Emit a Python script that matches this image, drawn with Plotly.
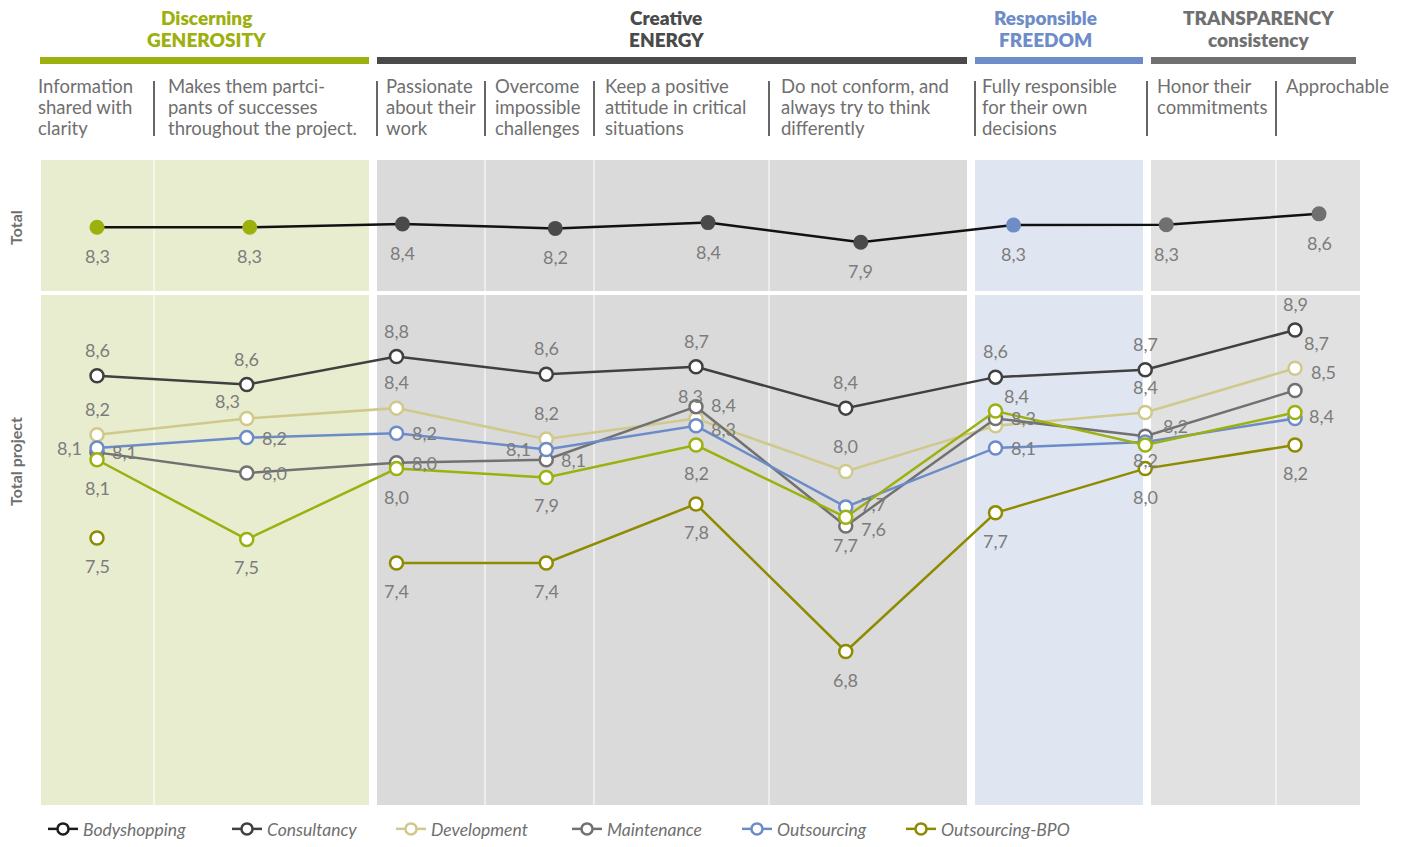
import plotly.graph_objects as go

W, H = 1408, 841

# ---- data -------------------------------------------------------------
groups = ["Discerning<br>GENEROSITY", "Creative<br>ENERGY",
          "Responsible<br>FREEDOM", "TRANSPARENCY<br>consistency"]

categories = [
    "Information<br>shared with<br>clarity",
    "Makes them partci-<br>pants of successes<br>throughout the project.",
    "Passionate<br>about their<br>work",
    "Overcome<br>impossible<br>challenges",
    "Keep a positive<br>attitude in critical<br>situations",
    "Do not conform, and<br>always try to think<br>differently",
    "Fully responsible<br>for their own<br>decisions",
    "Honor their<br>commitments",
    "Approchable",
]
category_group = [0, 0, 1, 1, 1, 1, 2, 3, 3]

total = [8.27, 8.27, 8.36, 8.24, 8.40, 7.86, 8.33, 8.34, 8.64]

series_names = ["Bodyshopping", "Consultancy", "Development",
                "Maintenance", "Outsourcing", "Outsourcing-BPO"]
bodyshopping = [8.06, 7.52, 8.00, 7.94, 8.16, 7.67, 8.39, 8.16, 8.38]
consultancy = [8.63, 8.57, 8.76, 8.64, 8.69, 8.41, 8.62, 8.67, 8.94]
development = [8.23, 8.34, 8.41, 8.20, 8.34, 7.98, 8.29, 8.38, 8.68]
maintenance = [8.11, 7.97, 8.04, 8.06, 8.42, 7.61, 8.34, 8.22, 8.53]
outsourcing = [8.14, 8.21, 8.24, 8.13, 8.29, 7.74, 8.14, 8.18, 8.34]
outsourcing_bpo = [7.53, None, 7.36, 7.36, 7.76, 6.76, 7.70, 8.00, 8.16]

# ---- styles -----------------------------------------------------------
group_colors = ["#9cb00e", "#4a4a4a", "#6e8cc8", "#707070"]
band_colors = ["#e9edcf", "#dadada", "#e0e6f1", "#e1e1e1"]
line_colors = {
    "Bodyshopping": "#9cb00e",
    "Consultancy": "#404040",
    "Development": "#cfc98b",
    "Maintenance": "#717171",
    "Outsourcing": "#6b8cc8",
    "Outsourcing-BPO": "#8e8b00",
}
legend_colors = {
    "Bodyshopping": "#1c1c1c",
    "Consultancy": "#404040",
    "Development": "#cfc98b",
    "Maintenance": "#717171",
    "Outsourcing": "#6b8cc8",
    "Outsourcing-BPO": "#8e8b00",
}
legend_widths = {
    "Bodyshopping": 139, "Consultancy": 119, "Development": 131,
    "Maintenance": 125, "Outsourcing": 119, "Outsourcing-BPO": 150,
}
LABEL_GRAY = "#7c7c7c"
TEXT_GRAY = "#6f6f6f"
FONT = "Lato, 'Open Sans', sans-serif"

# label placement: (dx, dy, xanchor) in pixels relative to the marker
A = (0, 26, "center")
B = (0, -28, "center")
R = (13, 0, "left")
L = (-13, 0, "right")
label_place = {
    "Consultancy": [A] * 9,
    "Development": [A, (-19, 17, "center"), A, A, (-6, 22, "center"), A, None, A, (21, 25, "center")],
    "Maintenance": [R, R, R, R, (13, 2, "left"), (13, -3, "left"), R, (16, 10, "left"), (14, 18, "left")],
    "Outsourcing": [L, R, R, L, (13, -3, "left"), (13, 3, "left"), R, None, None],
    "Bodyshopping": [B, B, B, B, B, B, (21, 15, "center"), (0, -15, "center"), (12, -3, "left")],
    "Outsourcing-BPO": [B, None, B, B, B, B, B, B, B],
}

# ---- geometry helpers (pixel -> paper) ---------------------------------
def px(x):
    return x / W

def py(y):
    return 1 - y / H

xs = list(range(len(categories)))

fig = go.Figure()

# total panel
fig.add_trace(go.Scatter(
    x=xs, y=total, xaxis="x2", yaxis="y2", mode="lines+markers",
    line=dict(color="#111111", width=2.5),
    marker=dict(size=15, color=[group_colors[g] for g in category_group],
                line=dict(width=0)),
    showlegend=False, hoverinfo="skip",
))

# project panel
series = {
    "Bodyshopping": bodyshopping,
    "Consultancy": consultancy,
    "Development": development,
    "Maintenance": maintenance,
    "Outsourcing": outsourcing,
    "Outsourcing-BPO": outsourcing_bpo,
}
draw_order = ["Development", "Maintenance", "Outsourcing", "Bodyshopping",
              "Consultancy", "Outsourcing-BPO"]
for name in draw_order:
    fig.add_trace(go.Scatter(
        x=xs, y=series[name], mode="lines+markers",
        line=dict(color=line_colors[name], width=2.5),
        marker=dict(size=13, color="white", symbol="circle",
                    line=dict(color=line_colors[name], width=2.5)),
        showlegend=False, hoverinfo="skip",
    ))

# legend entries
for name in series_names:
    fig.add_trace(go.Scatter(
        x=[None], y=[None], mode="lines+markers", name=name,
        line=dict(color=legend_colors[name], width=2.5),
        marker=dict(size=11, color="white",
                    line=dict(color=legend_colors[name], width=2.5)),
        legendwidth=legend_widths[name],
    ))

annotations = []

def fmt(v):
    return f"{v:.1f}".replace(".", ",")

LABEL_FONT = dict(family=FONT, size=18, color=LABEL_GRAY)

# value labels, project panel
for name, vals in series.items():
    for i, v in enumerate(vals):
        place = label_place[name][i]
        if v is None or place is None:
            continue
        dx, dy, anchor = place
        annotations.append(dict(
            x=i, y=v, xref="x", yref="y", text=fmt(v), showarrow=False,
            xshift=dx, yshift=dy, xanchor=anchor, font=LABEL_FONT,
        ))

# value labels, total panel
for i, v in enumerate(total):
    annotations.append(dict(
        x=i, y=v, xref="x2", yref="y2", text=fmt(v), showarrow=False,
        yshift=-29, font=LABEL_FONT,
    ))

# group headings, one annotation per line
group_centers = [206, 666, 1045, 1258]
for g, (title, cx) in enumerate(zip(groups, group_centers)):
    for k, line in enumerate(title.split("<br>")):
        annotations.append(dict(
            x=px(cx), y=py(18 + 21 * k), xref="paper", yref="paper",
            text=line, showarrow=False, xanchor="center", yanchor="middle",
            font=dict(family=FONT, size=19, color=group_colors[g], weight=800),
        ))

# category descriptions, one annotation per line
cat_text_x = [37, 167, 385, 494, 604, 780, 981, 1156, 1285]
for cx, text in zip(cat_text_x, categories):
    for k, line in enumerate(text.split("<br>")):
        annotations.append(dict(
            x=px(cx - 1), y=py(86 + 21 * k), xref="paper", yref="paper",
            text=line, showarrow=False, xanchor="left", yanchor="middle",
            font=dict(family=FONT, size=18.5, color=TEXT_GRAY),
        ))

# row titles
for text, cy in [("Total", 227), ("Total project", 462)]:
    annotations.append(dict(
        x=px(15), y=py(cy), xref="paper", yref="paper", text=f"<b>{text}</b>",
        showarrow=False, textangle=-90, xanchor="center", yanchor="middle",
        font=dict(family=FONT, size=16, color=TEXT_GRAY),
    ))

shapes = []
band_x = [(41, 369), (377, 967), (975, 1143), (1151, 1360)]
bar_x = [(40, 369), (377, 967), (975, 1143), (1151, 1356)]
panel_y = [(160, 291), (295, 805)]
for g, (x0, x1) in enumerate(band_x):
    for y0, y1 in panel_y:
        shapes.append(dict(type="rect", xref="paper", yref="paper",
                           x0=px(x0), x1=px(x1), y0=py(y1), y1=py(y0),
                           fillcolor=band_colors[g], line=dict(width=0),
                           layer="below"))
for g, (x0, x1) in enumerate(bar_x):
    shapes.append(dict(type="rect", xref="paper", yref="paper",
                       x0=px(x0), x1=px(x1), y0=py(64), y1=py(57),
                       fillcolor=group_colors[g], line=dict(width=0)))

# thin white dividers inside the bands
for xv in [154, 485, 594, 769, 1276]:
    for y0, y1 in panel_y:
        shapes.append(dict(type="line", xref="paper", yref="paper",
                           x0=px(xv), x1=px(xv), y0=py(y1), y1=py(y0),
                           line=dict(color="white", width=1), layer="below"))

# dark separators between the descriptions
for xv in [154, 377, 485, 594, 769, 975, 1147, 1276]:
    shapes.append(dict(type="line", xref="paper", yref="paper",
                       x0=px(xv), x1=px(xv), y0=py(136), y1=py(81),
                       line=dict(color="#333333", width=1.5)))

fig.update_layout(
    width=W, height=H,
    margin=dict(l=0, r=0, t=0, b=0, autoexpand=False),
    paper_bgcolor="white", plot_bgcolor="white",
    font=dict(family=FONT),
    xaxis=dict(domain=[0, 1], range=[-97 / 149.75, (W - 97) / 149.75],
               visible=False, anchor="y"),
    yaxis=dict(domain=[py(805), py(295)],
               range=[(1648.6 - 805) / 147.5, (1648.6 - 295) / 147.5],
               visible=False, anchor="x"),
    xaxis2=dict(domain=[0, 1], range=[-97 / 152.75, (W - 97) / 152.75],
                visible=False, anchor="y2"),
    yaxis2=dict(domain=[py(291), py(160)],
                range=[(527.5 - 291) / 36.3, (527.5 - 160) / 36.3],
                visible=False, anchor="x2"),
    showlegend=True,
    legend=dict(orientation="h", x=px(43), y=py(829), xanchor="left",
                yanchor="middle", bgcolor="rgba(0,0,0,0)",
                font=dict(family=FONT, size=17.5, color=TEXT_GRAY, style="italic"),
                itemwidth=30, tracegroupgap=0),
    annotations=annotations,
    shapes=shapes,
)

fig.write_html("out.html")
